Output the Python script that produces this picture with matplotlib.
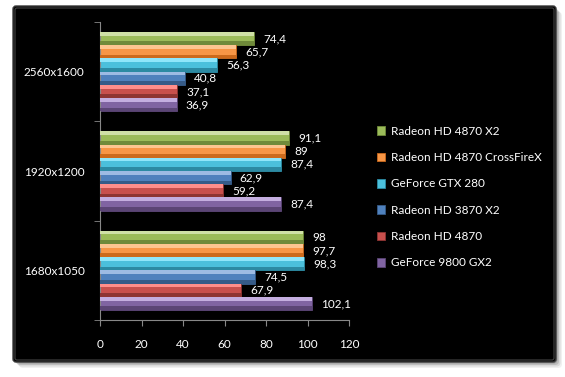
import numpy as np
import matplotlib
matplotlib.use("Agg")
import matplotlib.pyplot as plt
from matplotlib.patches import FancyBboxPatch, Patch

plt.rcParams['font.family'] = ['Lato', 'DejaVu Sans']

resolutions = ["1680x1050", "1920x1200", "2560x1600"]
series = ["Radeon HD 4870 X2", "Radeon HD 4870 CrossFireX", "GeForce GTX 280",
          "Radeon HD 3870 X2", "Radeon HD 4870", "GeForce 9800 GX2"]
# values per series, in order of resolutions (bottom to top)
hd4870x2 = [98, 91.1, 74.4]
hd4870cf = [97.7, 89, 65.7]
gtx280 = [98.3, 87.4, 56.3]
hd3870x2 = [74.5, 62.9, 40.8]
hd4870 = [67.9, 59.2, 37.1]
gf9800gx2 = [102.1, 87.4, 36.9]
values = [hd4870x2, hd4870cf, gtx280, hd3870x2, hd4870, gf9800gx2]

# (light, mid, dark) per series
colors = [("#cfe0a6", "#9bbb59", "#6f8a3a"),
          ("#fcc590", "#f79646", "#cc6a1c"),
          ("#8fe6fa", "#4bc0dc", "#2c8aa3"),
          ("#9dbbe3", "#4f81bd", "#365b88"),
          ("#ff8e8b", "#c8504d", "#8e3533"),
          ("#c4aee0", "#8064a2", "#5b4575")]

W, H = 565, 377
fig = plt.figure(figsize=(W / 100, H / 100), dpi=100)
fig.patch.set_facecolor("white")

# background axes in pixel coords (y down)
bg = fig.add_axes([0, 0, 1, 1], zorder=-5)
bg.set_axis_off()
px0, py0, px1, py1 = 13, 6, 556, 362
for off, a in [(6, 0.06), (4.5, 0.09), (3, 0.13), (1.5, 0.18)]:
    bg.add_patch(FancyBboxPatch((px0 + off, py0 + off), px1 - px0, py1 - py0,
                                boxstyle="round,pad=0,rounding_size=4",
                                facecolor="black", edgecolor="none", alpha=a))
grad = np.linspace(0, 1, 256)
shade = np.clip(1 - grad / 0.45, 0, 1) ** 1.1 * 0.48
img = np.dstack([shade, shade, shade])[:, None, 0, :].repeat(2, axis=1)
panel = FancyBboxPatch((px0, py0), px1 - px0, py1 - py0, boxstyle="round,pad=0,rounding_size=3",
                       facecolor="black", edgecolor="#3a3a3a", lw=1.0)
bg.add_patch(panel)
im = bg.imshow(img, aspect="auto", extent=[px0, px1, py1, py0], interpolation="bilinear")
im.set_clip_path(panel)
# inner bevel rim
bg.add_patch(FancyBboxPatch((px0 + 2, py0 + 2), px1 - px0 - 4, py1 - py0 - 4,
                            boxstyle="round,pad=0,rounding_size=2",
                            facecolor="none", edgecolor="#555555", lw=0.8, alpha=0.8))
bg.set_xlim(0, W)
bg.set_ylim(H, 0)

ax = fig.add_axes([100 / W, 1 - 320 / H, (349 - 100) / W, (320 - 22) / H])
ax.set_facecolor("none")

y = np.arange(len(resolutions))
h = 0.8 / len(series)
for i, (vals, (cl, cm, cd)) in enumerate(zip(values, colors)):
    yc = y + (2.5 - i) * h
    ax.barh(yc, vals, height=h, color=cm, edgecolor=cd, linewidth=0.6, zorder=2)
    ax.barh(yc + h * 0.36, vals, height=h * 0.28, color=cl, edgecolor="none", zorder=3)
    ax.barh(yc - h * 0.36, vals, height=h * 0.28, color=cd, edgecolor="none", zorder=3)
    for yy, v in zip(yc, vals):
        ax.text(v + 4.5, yy, ("%g" % v).replace(".", ","), color="white",
                fontsize=8.5, va="center", ha="left", zorder=4)

ax.set_xlim(0, 120)
ax.set_ylim(-0.5, 2.5)
ax.set_xticks(range(0, 121, 20))
ax.set_yticks(y)
ax.set_yticklabels(resolutions)
ax.set_yticks([-0.5, 0.5, 1.5, 2.5], minor=True)
ax.tick_params(axis="y", which="major", length=0, pad=11, colors="white", labelsize=8.5)
ax.tick_params(axis="y", which="minor", length=4, color="#888888", direction="out")
ax.tick_params(axis="x", length=4, color="#888888", labelcolor="white", labelsize=8.5, pad=10)
for s in ["top", "right"]:
    ax.spines[s].set_visible(False)
for s in ["left", "bottom"]:
    ax.spines[s].set_color("#888888")
    ax.spines[s].set_linewidth(0.8)

handles = [Patch(facecolor=cm, edgecolor=cd, linewidth=0.6) for (cl, cm, cd) in colors]
leg = fig.legend(handles, series, loc="upper left", bbox_to_anchor=(366 / W, 1 - 115 / H),
                 frameon=False, fontsize=8.5, labelcolor="white", handlelength=0.75,
                 handleheight=0.75, handletextpad=0.5, labelspacing=1.3)

fig.savefig("out.png", dpi=100, facecolor="white")
